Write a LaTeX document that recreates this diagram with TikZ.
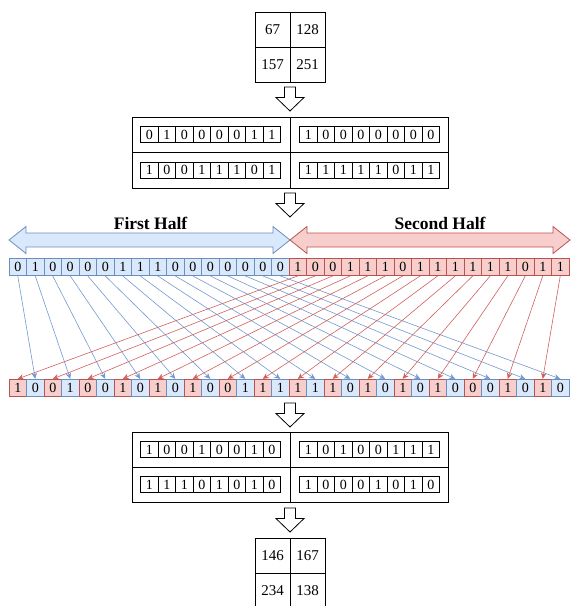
\documentclass[tikz,border=0pt]{standalone}
\usepackage{fontspec}
\setmainfont{Liberation Serif}
\usetikzlibrary{arrows.meta}

\definecolor{bfill}{HTML}{DAE8FC}
\definecolor{bstroke}{HTML}{6C8EBF}
\definecolor{rfill}{HTML}{F8CECC}
\definecolor{rstroke}{HTML}{B85450}
\definecolor{blinkcol}{HTML}{7399D0}
\definecolor{rlinkcol}{HTML}{D0605E}

\tikzset{
  numcell/.style={draw=black, line width=0.8pt, minimum width=35pt, minimum height=35pt,
    inner sep=0pt, font=\fontsize{15}{15}\selectfont},
  quad/.style={draw=black, line width=0.8pt, minimum width=158pt, minimum height=35.5pt, inner sep=0pt},
  bitbox/.style={draw=black, line width=0.7pt, minimum width=17.5pt, minimum height=16pt,
    inner sep=0pt, font=\fontsize{14}{14}\selectfont},
  bcell/.style={draw=bstroke, fill=bfill, line width=0.8pt, minimum width=17.5pt, minimum height=17.5pt,
    inner sep=0pt, font=\fontsize{14}{14}\selectfont},
  rcell/.style={bcell, draw=rstroke, fill=rfill},
  blink/.style={draw=blinkcol, line width=0.6pt, -{Stealth[length=6pt,width=5.5pt]}},
  rlink/.style={draw=rlinkcol, line width=0.6pt, -{Stealth[length=6pt,width=5.5pt]}},
  blockarrow/.style={draw=black, line width=0.8pt, fill=white, line join=miter},
  halfarrow/.style={line width=0.8pt, line join=miter},
  heading/.style={font=\fontsize{17.5}{20}\selectfont\bfseries, inner sep=0pt}
}

% a row of eight bit boxes: name, centre x, centre y, bits
\newcommand\bitgroup[4]{%
  \foreach \v [count=\k from 0] in {#4}
    \node[bitbox] (#1-\k) at ({#2+17.5*(\k-3.5)}, #3) {\v};
}

% hollow downward block arrow whose top edge is at y = #1
\newcommand\blockdown[1]{%
  \path[blockarrow] (284.5,#1) -- (295.5,#1) -- (295.5,#1+10.5) -- (304,#1+10.5)
    -- (290,#1+24) -- (276,#1+10.5) -- (284.5,#1+10.5) -- cycle;
}

\begin{document}
\begin{tikzpicture}[x=1pt, y=-1pt]
\useasboundingbox (0,0) rectangle (571,606);

% input state matrix
\node[numcell] (m1a) at (272.5,29.5) {67};
\node[numcell] (m1b) at (307.5,29.5) {128};
\node[numcell] (m1c) at (272.5,64.5) {157};
\node[numcell] (m1d) at (307.5,64.5) {251};

\blockdown{87}

% binary form of the input
\node[quad] (p1) at (211,134.75) {};
\node[quad] (p2) at (369,134.75) {};
\node[quad] (p3) at (211,170.25) {};
\node[quad] (p4) at (369,170.25) {};
\bitgroup{pa}{210.5}{134.75}{0,1,0,0,0,0,1,1}
\bitgroup{pb}{369.5}{134.75}{1,0,0,0,0,0,0,0}
\bitgroup{pc}{210.5}{170.25}{1,0,0,1,1,1,0,1}
\bitgroup{pd}{369.5}{170.25}{1,1,1,1,1,0,1,1}

\blockdown{193}

% the two halves
\path[halfarrow, draw=bstroke, fill=bfill]
  (9,240) -- (26,226.5) -- (26,233) -- (273,233) -- (273,226.5) -- (290,240)
  -- (273,253.5) -- (273,247) -- (26,247) -- (26,253.5) -- cycle;
\path[halfarrow, draw=rstroke, fill=rfill]
  (290,240) -- (307,226.5) -- (307,233) -- (553,233) -- (553,226.5) -- (570,240)
  -- (553,253.5) -- (553,247) -- (307,247) -- (307,253.5) -- cycle;
\node[heading] (first) at (150.5,223) {First Half};
\node[heading] (second) at (440,223) {Second Half};

% source bit row
\foreach \v [count=\i from 0] in {0,1,0,0,0,0,1,1,1,0,0,0,0,0,0,0}
  \node[bcell] (t\i) at ({9+17.5*(\i+0.5)}, 266.75) {\v};
\foreach \v [count=\i from 16] in {1,0,0,1,1,1,0,1,1,1,1,1,1,0,1,1}
  \node[rcell] (t\i) at ({9+17.5*(\i+0.5)}, 266.75) {\v};

% interleaved bit row
\foreach \v [count=\i from 0] in {1,0,0,1,0,0,1,0,1,0,1,0,0,1,1,1,1,1,1,0,1,0,1,0,1,0,0,0,1,0,1,0} {
  \ifodd\i
    \node[bcell] (b\i) at ({9+17.5*(\i+0.5)}, 388) {\v};
  \else
    \node[rcell] (b\i) at ({9+17.5*(\i+0.5)}, 388) {\v};
  \fi
}

% first half goes to the odd positions, second half to the even ones
\foreach \i in {0,...,15} {
  \pgfmathtruncatemacro\j{2*\i+1}
  \draw[blink] (t\i.south) -- (b\j.north);
}
\foreach \i in {0,...,15} {
  \pgfmathtruncatemacro\k{16+\i}
  \pgfmathtruncatemacro\j{2*\i}
  \draw[rlink] (t\k.south) -- (b\j.north);
}

\blockdown{403}

% binary form of the result
\node[quad, minimum height=35pt] (r1) at (211,449.5) {};
\node[quad, minimum height=35pt] (r2) at (369,449.5) {};
\node[quad, minimum height=35pt] (r3) at (211,484.5) {};
\node[quad, minimum height=35pt] (r4) at (369,484.5) {};
\bitgroup{ra}{210.5}{449.5}{1,0,0,1,0,0,1,0}
\bitgroup{rb}{369.5}{449.5}{1,0,1,0,0,1,1,1}
\bitgroup{rc}{210.5}{484.5}{1,1,1,0,1,0,1,0}
\bitgroup{rd}{369.5}{484.5}{1,0,0,0,1,0,1,0}

\blockdown{508}

% output state matrix
\node[numcell] (m2a) at (272.5,555.5) {146};
\node[numcell] (m2b) at (307.5,555.5) {167};
\node[numcell] (m2c) at (272.5,590.5) {234};
\node[numcell] (m2d) at (307.5,590.5) {138};
\end{tikzpicture}
\end{document}
